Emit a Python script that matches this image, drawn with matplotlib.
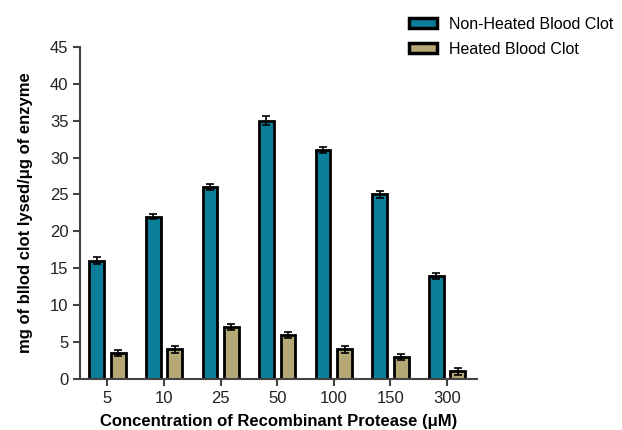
import numpy as np
import matplotlib.pyplot as plt
from matplotlib.patches import Patch

plt.rcParams['font.family'] = ['Liberation Sans', 'DejaVu Sans']

concentrations = ['5', '10', '25', '50', '100', '150', '300']
non_heated = [16, 22, 26, 35, 31, 25, 14]
non_heated_err = [0.5, 0.4, 0.4, 0.6, 0.4, 0.5, 0.4]
heated = [3.5, 4, 7, 6, 4, 3, 1]
heated_err = [0.4, 0.5, 0.4, 0.4, 0.5, 0.4, 0.5]

teal = '#0B7F99'
tan = '#B4A877'

fig = plt.figure(figsize=(6.22, 4.3), dpi=100)
ax = fig.add_axes([0.129, 0.119, 0.638, 0.772])

x = np.arange(len(concentrations))
w = 0.26
off = 0.19
err_kw = dict(ecolor='black', elinewidth=1.2, capsize=3, capthick=1.2)
ax.bar(x - off, non_heated, w, yerr=non_heated_err, color=teal,
       edgecolor='black', linewidth=2, error_kw=err_kw, zorder=2)
ax.bar(x + off, heated, w, yerr=heated_err, color=tan,
       edgecolor='black', linewidth=2, error_kw=err_kw, zorder=2)

ax.set_xlim(-0.48, 6.53)
ax.set_ylim(0, 45)
ax.set_yticks(range(0, 46, 5))
ax.set_xticks(x)
ax.set_xticklabels(concentrations)
for s in ['top', 'right']:
    ax.spines[s].set_visible(False)
for s in ['left', 'bottom']:
    ax.spines[s].set_linewidth(1.5)
    ax.spines[s].set_color('#444444')
ax.tick_params(axis='both', direction='out', length=5, width=1.5,
               color='#444444', labelsize=12, labelcolor='#222222')

ax.set_xlabel('Concentration of Recombinant Protease (\u03bcM)',
              fontsize=12, fontweight='bold', labelpad=6)
ax.set_ylabel('mg of bllod clot lysed/\u03bcg of enzyme',
              fontsize=12, fontweight='bold', labelpad=12)

handles = [Patch(facecolor=teal, edgecolor='black', linewidth=2.5),
           Patch(facecolor=tan, edgecolor='black', linewidth=2.5)]
fig.legend(handles, ['Non-Heated Blood Clot', 'Heated Blood Clot'],
           loc='upper left', bbox_to_anchor=(0.634, 0.995), frameon=False,
           fontsize=11.5, handlelength=1.75, handleheight=0.55,
           handletextpad=0.75, labelspacing=0.65)

fig.savefig('out.png', dpi=100)
